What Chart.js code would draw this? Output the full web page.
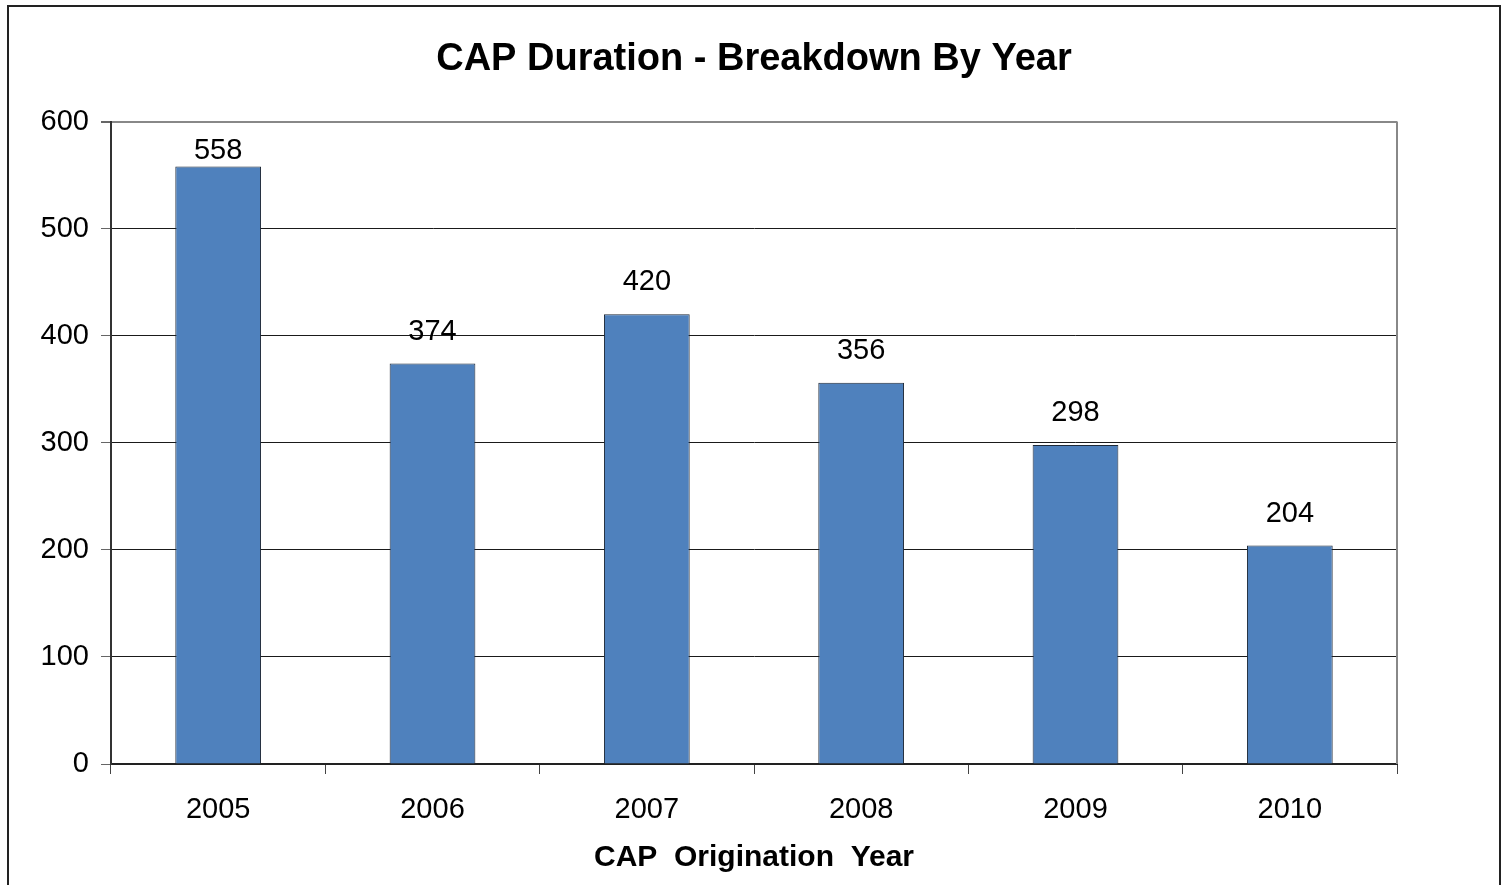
<!DOCTYPE html>
<html>
<head>
<meta charset="utf-8">
<script src="https://cdn.jsdelivr.net/npm/chart.js@4.4.1/dist/chart.umd.min.js"></script>
<style>
  html, body { margin: 0; padding: 0; background: #fff; }
  #wrap { position: relative; width: 1503px; height: 885px; }
  #frame {
    position: absolute; left: 7px; top: 5px; width: 1494px; height: 900px;
    border: 2px solid #222; box-sizing: border-box; pointer-events: none;
  }
</style>
</head>
<body>
<div id="wrap">
  <canvas id="chart" width="1503" height="885"></canvas>
  <div id="frame"></div>
</div>
<script>
// Chart data
const years = ['2005', '2006', '2007', '2008', '2009', '2010'];
const durations = [558, 374, 420, 356, 298, 204];
const yTicks = [0, 100, 200, 300, 400, 500, 600];

const FONT = "'Liberation Sans', Arial, sans-serif";

// Value labels above each bar (kept inside the plot area, like Excel does)
const barLabels = {
  id: 'barLabels',
  afterDatasetsDraw(chart) {
    const ctx = chart.ctx;
    const meta = chart.getDatasetMeta(0);
    const minY = chart.chartArea.top + 37;
    ctx.save();
    ctx.font = '29px ' + FONT;
    ctx.fillStyle = '#000';
    ctx.textAlign = 'center';
    ctx.textBaseline = 'alphabetic';
    meta.data.forEach((bar, i) => {
      ctx.fillText(String(durations[i]), bar.x, Math.max(bar.y - 24, minY));
    });
    ctx.restore();
  }
};

// Gray right edge of the plot area
const plotEdge = {
  id: 'plotEdge',
  afterDraw(chart) {
    const a = chart.chartArea;
    const ctx = chart.ctx;
    ctx.save();
    ctx.strokeStyle = '#888';
    ctx.lineWidth = 2;
    ctx.beginPath();
    ctx.moveTo(a.right, a.top);
    ctx.lineTo(a.right, a.bottom);
    ctx.stroke();
    ctx.restore();
  }
};

new Chart(document.getElementById('chart'), {
  type: 'bar',
  data: {
    labels: years,
    datasets: [{
      data: durations,
      backgroundColor: '#4f81bd',
      borderColor: '#1f2a38',
      borderWidth: 1,
      barPercentage: 0.8,
      categoryPercentage: 0.5
    }]
  },
  options: {
    responsive: false,
    animation: false,
    layout: { padding: { left: 0, right: 106, top: 0, bottom: 0 } },
    plugins: {
      legend: { display: false },
      tooltip: { enabled: false },
      title: {
        display: true,
        fullSize: false,
        text: 'CAP Duration - Breakdown By Year',
        color: '#000',
        font: { family: FONT, size: 38, weight: 'bold', lineHeight: 1.2 },
        padding: { top: 37, bottom: 39 }
      }
    },
    scales: {
      x: {
        offset: true,
        afterFit(scale) { scale.height = 121; },
        grid: {
          offset: true,
          drawOnChartArea: false,
          drawTicks: true,
          tickLength: 10,
          tickColor: '#444',
          lineWidth: 1
        },
        border: { color: '#222', width: 2 },
        ticks: {
          color: '#000',
          padding: 19,
          font: { family: FONT, size: 29 }
        },
        title: {
          display: true,
          text: 'CAP  Origination  Year',
          color: '#000',
          font: { family: FONT, size: 30, weight: 'bold', lineHeight: 1.2 },
          padding: { top: 0, bottom: 9 }
        }
      },
      y: {
        min: 0,
        max: 600,
        afterFit(scale) { scale.width = 111; },
        afterBuildTicks(scale) { scale.ticks = yTicks.map(v => ({ value: v })); },
        grid: {
          color: ctx => (ctx.tick && ctx.tick.value === 600 ? '#888' : '#1a1a1a'),
          lineWidth: ctx => (ctx.tick && ctx.tick.value === 600 ? 2 : 1),
          tickColor: '#666',
          tickLength: 10
        },
        border: { color: '#333', width: 2 },
        ticks: {
          color: '#000',
          padding: 12,
          font: { family: FONT, size: 29 }
        }
      }
    }
  },
  plugins: [barLabels, plotEdge]
});
</script>
</body>
</html>
